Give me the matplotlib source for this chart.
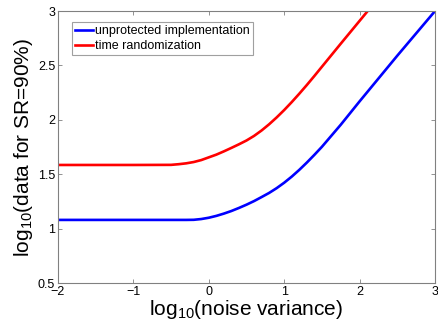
import matplotlib
matplotlib.use('Agg')
import matplotlib.pyplot as plt

# 数据
x_blue = [-2, -1, -0.3, -0.2, -0.1, 0, 0.1, 0.2, 0.3, 0.4, 0.5, 0.6, 0.7, 0.8, 0.9, 1.0,
          1.1, 1.2, 1.3, 1.4, 1.5, 1.75, 2.0, 2.25, 2.5, 2.75, 3.0]
y_blue = [1.08, 1.08, 1.08, 1.081, 1.088, 1.10, 1.117, 1.138, 1.162, 1.19, 1.22, 1.253, 1.29,
          1.328, 1.372, 1.422, 1.478, 1.54, 1.607, 1.678, 1.752, 1.955, 2.17, 2.38, 2.59, 2.795, 3.00]

x_red = [-2, -1, -0.5, -0.4, -0.3, -0.2, -0.1, 0, 0.1, 0.2, 0.3, 0.4, 0.5, 0.6, 0.7, 0.8,
         0.9, 1.0, 1.1, 1.2, 1.3, 1.4, 1.5, 1.75, 2.0, 2.25]
y_red = [1.585, 1.585, 1.586, 1.592, 1.60, 1.612, 1.63, 1.655, 1.68, 1.71, 1.742, 1.775, 1.81,
         1.852, 1.902, 1.959, 2.022, 2.09, 2.163, 2.24, 2.32, 2.403, 2.488, 2.70, 2.91, 3.12]

labels = ['unprotected implementation', 'time randomization']
xticks = [-2, -1, 0, 1, 2, 3]
yticks = [0.5, 1, 1.5, 2, 2.5, 3]

plt.rcParams['font.family'] = ['Liberation Sans', 'DejaVu Sans']
plt.rcParams['mathtext.default'] = 'regular'

fig = plt.figure(figsize=(4.39, 3.24), dpi=100)
ax = fig.add_axes([0.132, 0.1265, 0.859, 0.8395])

ax.plot(x_blue, y_blue, color='#0000ff', lw=1.9, label=labels[0])
ax.plot(x_red, y_red, color='#ff0000', lw=1.9, label=labels[1])

ax.set_xlim(-2, 3)
ax.set_ylim(0.5, 3)
ax.set_xticks(xticks)
ax.set_yticks(yticks)
ax.set_yticklabels(['0.5', '1', '1.5', '2', '2.5', '3'])
ax.tick_params(direction='in', length=3, width=0.6, color='#808080',
               top=True, right=True, labelsize=9, pad=2)
for s in ax.spines.values():
    s.set_color('#808080')
    s.set_linewidth(0.8)

ax.set_xlabel('log$_{10}$(noise variance)', fontsize=15, labelpad=0)
ax.set_ylabel('log$_{10}$(data for SR=90%)', fontsize=15, labelpad=2)

leg = ax.legend(loc='upper left', bbox_to_anchor=(0.036, 0.96), fontsize=9,
                handlelength=1.5, handletextpad=0.1, borderpad=0.25,
                borderaxespad=0, labelspacing=0.25, fancybox=False, framealpha=1)
leg.get_frame().set_edgecolor('#a0a0a0')
leg.get_frame().set_linewidth(0.8)

plt.savefig('out.png', dpi=100)
